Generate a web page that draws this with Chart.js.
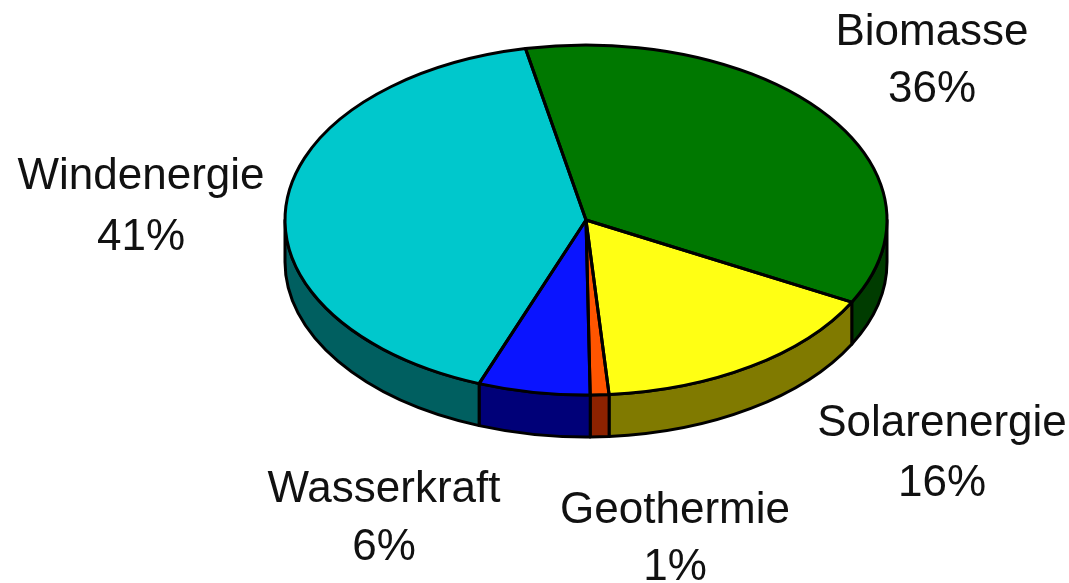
<!DOCTYPE html>
<html lang="de">
<head>
<meta charset="utf-8">
<title>Erneuerbare Energien</title>
<script src="https://cdn.jsdelivr.net/npm/chart.js@4/dist/chart.umd.min.js"></script>
<style>
    html, body {
        margin: 0;
        padding: 0;
        background: #ffffff;
    }
    #wrap {
        width: 1069px;
        height: 583px;
    }
</style>
</head>
<body>
<div id="wrap">
    <canvas id="energyChart" width="1069" height="583"></canvas>
</div>
<script>

const categories = [
    "Biomasse",
    "Solarenergie",
    "Geothermie",
    "Wasserkraft",
    "Windenergie"
];

const shares = [
    36,
    16,
    1,
    6,
    41
];

const topColors = [
    "#007800",
    "#ffff14",
    "#ff5500",
    "#0a14ff",
    "#00c8cc"
];

const sideColors = [
    "#003c00",
    "#807a00",
    "#8c2200",
    "#000078",
    "#005f60"
];

// label anchor: x centre, baseline of name, baseline of percent
const labelAnchors = [
    [932, 45, 102],
    [942, 436, 496],
    [675, 523, 580],
    [384, 502, 560],
    [141, 189, 250]
];

const tilt = 175 / 301;

const depth = 42;

function visibleParts(s, e) {

    const parts = [];

    for (let n = -1; n <= 1; n++) {

        const lo = Math.max(s, n * 2 * Math.PI);

        const hi = Math.min(e, n * 2 * Math.PI + Math.PI);

        if (hi > lo) {

            parts.push([lo, hi]);

        }

    }

    return parts;

}

const pie3d = {

    id: "pie3d",

    beforeDatasetsDraw(chart) {

        const ctx = chart.ctx;

        const arcs = chart.getDatasetMeta(0).data;

        ctx.save();

        ctx.lineWidth = 3;

        ctx.lineJoin = "round";

        ctx.strokeStyle = "#000000";

        arcs.forEach((arc, i) => {

            const p = arc.getProps(
                ["x", "y", "startAngle", "endAngle", "outerRadius"],
                true
            );

            const ry = p.outerRadius * tilt;

            visibleParts(p.startAngle, p.endAngle).forEach(([a1, a2]) => {

                ctx.beginPath();

                ctx.ellipse(p.x, p.y, p.outerRadius, ry, 0, a1, a2, false);

                ctx.ellipse(p.x, p.y + depth, p.outerRadius, ry, 0, a2, a1, true);

                ctx.closePath();

                ctx.fillStyle = sideColors[i];

                ctx.fill();

                ctx.stroke();

            });

        });

        ctx.restore();

        // squash the library's round pie into the tilted top face
        const first = arcs[0];

        ctx.save();

        ctx.translate(first.x, first.y);

        ctx.scale(1, tilt);

        ctx.translate(-first.x, -first.y);

    },

    afterDatasetsDraw(chart) {

        const ctx = chart.ctx;

        ctx.restore();

        const arcs = chart.getDatasetMeta(0).data;

        ctx.save();

        ctx.lineWidth = 3;

        ctx.lineJoin = "round";

        ctx.strokeStyle = "#000000";

        arcs.forEach(arc => {

            const p = arc.getProps(
                ["x", "y", "startAngle", "endAngle", "outerRadius"],
                true
            );

            const ry = p.outerRadius * tilt;

            ctx.beginPath();

            ctx.moveTo(p.x, p.y);

            ctx.ellipse(p.x, p.y, p.outerRadius, ry, 0, p.startAngle, p.endAngle, false);

            ctx.closePath();

            ctx.stroke();

        });

        ctx.fillStyle = "#111111";

        ctx.font = "44px 'Liberation Sans', Arial, sans-serif";

        ctx.textAlign = "center";

        ctx.textBaseline = "alphabetic";

        categories.forEach((name, i) => {

            const [x, y1, y2] = labelAnchors[i];

            ctx.fillText(name, x, y1);

            ctx.fillText(shares[i] + "%", x, y2);

        });

        ctx.restore();

    }

};

const energyChart = new Chart(
    document.getElementById("energyChart"),
    {

        type: "pie",

        data: {

            labels: categories,

            datasets: [{

                data: shares,

                backgroundColor: topColors,

                borderWidth: 0,

                radius: 301,

                clip: false

            }]

        },

        options: {

            responsive: false,

            devicePixelRatio: 1,

            animation: false,

            events: [],

            rotation: -11.6,

            layout: {

                padding: {
                    left: 103,
                    right: 0,
                    top: 0,
                    bottom: 143
                }

            },

            plugins: {

                legend: { display: false },

                tooltip: { enabled: false }

            }

        },

        plugins: [pie3d]

    }
);

</script>
</body>
</html>
